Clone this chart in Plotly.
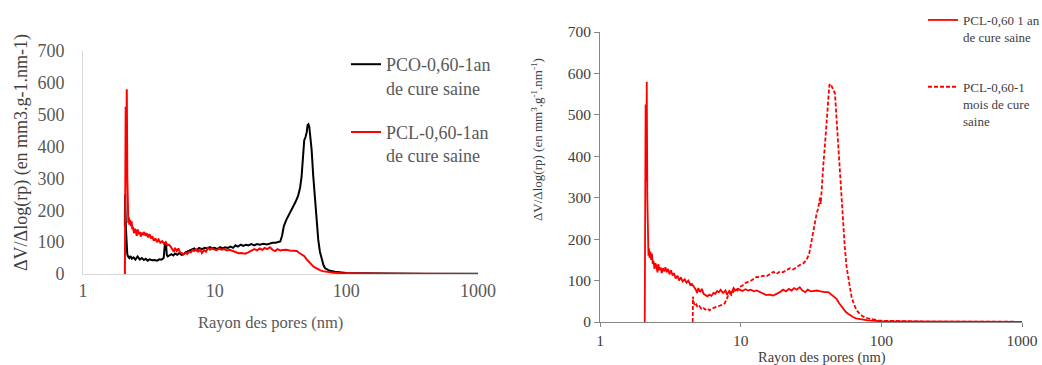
import plotly.graph_objects as go

# ---------------- data ----------------
# PCO-0,60-1an de cure saine (black, left chart)
pco_x = [2.08, 2.09, 2.10, 2.12, 2.14, 2.17, 2.20, 2.25, 2.30, 2.35, 2.42, 2.50, 2.60, 2.70, 2.80,
         2.90, 3.00, 3.10, 3.20, 3.35, 3.50, 3.65, 3.80, 3.95, 4.10, 4.20, 4.27, 4.33, 4.40, 4.55,
         4.70, 4.85, 5.00, 5.20, 5.40, 5.60, 5.80, 6.00, 6.30, 6.60, 7.00, 7.30, 7.60, 8.00, 8.40,
         8.80, 9.20, 9.60, 10.0, 10.5, 11.0, 11.5, 12.0, 12.6, 13.2, 13.8, 14.4, 15.0, 15.8, 16.5,
         17.3, 18.0, 19.0, 20.0, 21.0, 22.0, 23.5, 25.0, 26.3, 27.5, 29.0, 30.5, 31.5, 32.5, 33.5,
         35.0, 36.5, 38.0, 39.5, 41.0, 43.0, 44.5, 45.7, 47.0, 47.9, 49.0, 50.0, 50.8, 51.5, 52.3,
         53.5, 54.5, 56.0, 57.8, 59.5, 61.2, 63.0, 65.0, 67.0, 69.0, 72.0, 75.0, 82.0, 90.0, 100.0,
         130.0, 200.0, 400.0, 1000.0]
pco_y = [150, 250, 200, 140, 80, 62, 55, 50, 56, 48, 52, 45, 55, 45, 50,
         44, 48, 42, 46, 43, 44, 42, 46, 45, 50, 100, 95, 60, 55, 58,
         62, 58, 64, 60, 66, 60, 62, 68, 72, 76, 80, 74, 82, 78, 82,
         80, 84, 80, 82, 78, 84, 80, 84, 82, 86, 82, 90, 86, 92, 88,
         92, 90, 94, 90, 94, 92, 95, 93, 96, 98, 98, 100, 102, 120, 150,
         170, 185, 195, 210, 225, 245, 270, 305, 360, 420, 430, 445, 468, 470, 462,
         430, 390, 310, 232, 165, 107, 70, 44, 28, 18, 13, 10, 7, 5, 3,
         2, 1, 0.6, 0.4]

# PCL-0,60-1an de cure saine (red solid, both charts)
pcl_an_x = [2.08, 2.09, 2.10, 2.11, 2.13, 2.15, 2.17, 2.19, 2.21, 2.23, 2.25, 2.28, 2.31, 2.34, 2.37,
            2.40, 2.44, 2.48, 2.52, 2.56, 2.60, 2.65, 2.70, 2.75, 2.80, 2.86, 2.92, 2.98, 3.05, 3.12,
            3.20, 3.28, 3.36, 3.45, 3.55, 3.65, 3.75, 3.87, 4.00, 4.12, 4.25, 4.38, 4.50, 4.65, 4.80,
            4.90, 5.00, 5.15, 5.30, 5.45, 5.60, 5.80, 6.00, 6.20, 6.40, 6.60, 6.80, 7.00, 7.20, 7.50,
            7.80, 8.00, 8.30, 8.60, 8.90, 9.20, 9.50, 9.90, 10.3, 10.8, 11.3, 11.8, 12.4, 13.0, 13.7,
            14.4, 15.2, 16.0, 17.0, 18.0, 19.0, 20.0, 21.0, 22.0, 23.0, 24.0, 25.0, 26.3, 27.5, 28.8,
            30.0, 31.5, 33.0, 35.0, 37.0, 39.5, 42.0, 44.0, 46.0, 48.0, 50.0, 52.0, 54.0, 56.0, 58.0,
            60.0, 63.0, 66.0, 70.0, 75.0, 80.0, 90.0, 100.0, 130.0, 200.0, 400.0, 1000.0]
pcl_an_y = [0, 520, 330, 525, 340, 580, 300, 185, 160, 178, 155, 170, 150, 165, 140,
            148, 128, 142, 135, 120, 140, 125, 132, 118, 130, 122, 132, 120, 128, 115,
            125, 112, 118, 105, 112, 100, 108, 98, 103, 95, 100, 90, 92, 85, 78,
            70, 82, 72, 80, 68, 66, 62, 66, 63, 70, 68, 75, 72, 78, 70,
            76, 66, 75, 70, 82, 76, 80, 78, 75, 79, 76, 78, 74, 76, 72,
            68, 65, 66, 64, 68, 72, 78, 74, 80, 76, 82, 78, 84, 76, 72,
            78, 74, 75, 76, 74, 72, 72, 66, 62, 56, 46, 38, 30, 24, 20,
            16, 12, 9, 7, 5, 4, 3, 2, 1.5, 1, 0.5, 0.3]

# PCL-0,60-1 mois de cure saine (red dashed, right chart)
pcl_mois_x = [4.56, 4.58, 4.65, 4.75, 4.85, 4.95, 5.10, 5.25, 5.40, 5.60, 5.80, 6.00, 6.20, 6.45, 6.70,
              6.95, 7.20, 7.45, 7.70, 7.90, 8.10, 8.30, 8.60, 8.90, 9.20, 9.50, 9.90, 10.3, 10.8, 11.3,
              11.9, 12.5, 13.0, 13.7, 14.4, 15.2, 16.0, 17.1, 18.0, 19.0, 20.0, 21.2, 22.4, 23.6, 25.0,
              26.5, 28.0, 29.4, 30.7, 31.9, 33.3, 34.7, 35.6, 36.6, 37.1, 37.6, 38.7, 39.8, 40.5, 41.3,
              42.0, 42.7, 43.5, 44.4, 45.5, 46.8, 48.1, 49.5, 50.8, 52.2, 53.6, 55.0, 56.6, 59.0, 61.4,
              64.0, 66.6, 70.0, 74.3, 80.0, 87.2, 95.0, 103.0, 130.0, 200.0, 1000.0]
pcl_mois_y = [0, 61, 45, 38, 42, 35, 38, 32, 35, 30, 33, 28, 32, 34, 36,
              38, 40, 42, 45, 52, 62, 70, 65, 74, 80, 76, 85, 88, 94, 97,
              100, 105, 109, 108, 112, 110, 115, 121, 116, 122, 120, 126, 130, 127, 133,
              138, 142, 150, 165, 198, 230, 262, 275, 300, 285, 327, 380, 431, 470, 512,
              545, 572, 575, 568, 560, 552, 488, 420, 351, 290, 230, 180, 133, 90, 61,
              42, 29, 20, 13, 9, 6, 4, 3, 2, 1, 0.5]

tick_vals = [1, 10, 100, 1000]
tick_text = ["1", "10", "100", "1000"]
y_ticks = [0, 100, 200, 300, 400, 500, 600, 700]

# ---------------- figure ----------------
W, H = 1042, 365
SERIF = "Liberation Serif"
GRAY = "#595959"

fig = go.Figure()

fig.add_trace(go.Scatter(x=pco_x, y=pco_y, mode="lines", name="PCO-0,60-1an<br>de cure saine",
                         line=dict(color="#000000", width=2), xaxis="x", yaxis="y",
                         legend="legend", legendgroup="a"))
fig.add_trace(go.Scatter(x=pcl_an_x, y=pcl_an_y, mode="lines", name="PCL-0,60-1an<br>de cure saine",
                         line=dict(color="#ff0000", width=2), xaxis="x", yaxis="y",
                         legend="legend", legendgroup="b"))
fig.add_trace(go.Scatter(x=pcl_an_x, y=pcl_an_y, mode="lines", name="PCL-0,60 1 an<br>de cure saine",
                         line=dict(color="#ff0000", width=1.8), xaxis="x2", yaxis="y2",
                         legend="legend2", legendgroup="c"))
fig.add_trace(go.Scatter(x=pcl_mois_x, y=pcl_mois_y, mode="lines",
                         name="PCL-0,60-1<br>mois de cure<br>saine",
                         line=dict(color="#ff0000", width=1.8, dash="4px,2px"), xaxis="x2", yaxis="y2",
                         legend="legend2", legendgroup="d"))

def px_x(p):
    return p / W

def px_y(p):
    return 1 - p / H

left_axis_line = "#d9d9d9"
right_axis_line = "#868686"

fig.update_layout(
    width=W, height=H,
    margin=dict(l=0, r=0, t=0, b=0, autoexpand=False),
    paper_bgcolor="white", plot_bgcolor="white",
    font=dict(family=SERIF, color=GRAY),
    xaxis=dict(type="log", range=[0, 3], domain=[px_x(83), px_x(478)], anchor="y",
               tickvals=tick_vals, ticktext=tick_text, showgrid=False, zeroline=False,
               showline=True, linecolor=left_axis_line, linewidth=1, ticks="",
               tickfont=dict(family=SERIF, size=18, color=GRAY)),
    yaxis=dict(range=[0, 700], domain=[px_y(274), px_y(51)], anchor="x",
               tickvals=y_ticks, showgrid=False, zeroline=False,
               showline=True, linecolor=left_axis_line, linewidth=1, ticks="",
               ticklabelstandoff=14,
               tickfont=dict(family=SERIF, size=18, color=GRAY)),
    xaxis2=dict(type="log", range=[0, 3], domain=[px_x(600), px_x(1022)], anchor="y2",
                tickvals=tick_vals, ticktext=tick_text, showgrid=False, zeroline=False,
                showline=True, linecolor=right_axis_line, linewidth=1,
                ticks="outside", ticklen=4, tickcolor=right_axis_line,
                tickfont=dict(family=SERIF, size=15.5, color="#404040")),
    yaxis2=dict(range=[0, 700], domain=[px_y(322), px_y(32)], anchor="x2",
                tickvals=y_ticks, showgrid=False, zeroline=False,
                showline=True, linecolor=right_axis_line, linewidth=1,
                ticks="outside", ticklen=5, tickcolor=right_axis_line,
                tickfont=dict(family=SERIF, size=15.5, color="#404040")),
    legend=dict(x=px_x(346), y=px_y(46), xanchor="left", yanchor="top",
                font=dict(family=SERIF, size=18, color=GRAY), valign="top",
                traceorder="grouped", tracegroupgap=18, bgcolor="rgba(0,0,0,0)"),
    legend2=dict(x=px_x(923), y=px_y(5), xanchor="left", yanchor="top",
                 font=dict(family=SERIF, size=13, color="#404040"), valign="top",
                 traceorder="grouped", tracegroupgap=30, bgcolor="rgba(0,0,0,0)"),
    showlegend=True,
)

annotations = [
    dict(text="Rayon des pores (nm)", x=px_x(270), y=px_y(322), xref="paper", yref="paper",
         showarrow=False, xanchor="center", yanchor="middle",
         font=dict(family=SERIF, size=16.5, color=GRAY)),
    dict(text="ΔV/Δlog(rp) (en mm3.g-1.nm-1)", x=px_x(22), y=px_y(153), xref="paper", yref="paper",
         showarrow=False, xanchor="center", yanchor="middle", textangle=-90,
         font=dict(family=SERIF, size=18, color="#404040")),
    dict(text="Rayon des pores (nm)", x=px_x(822), y=px_y(357), xref="paper", yref="paper",
         showarrow=False, xanchor="center", yanchor="middle",
         font=dict(family=SERIF, size=14.5, color="#404040")),
    dict(text="ΔV/Δlog(rp) (en mm<sup>3</sup>.g<sup>-1</sup>.nm<sup>-1</sup>)",
         x=px_x(537), y=px_y(140), xref="paper", yref="paper",
         showarrow=False, xanchor="center", yanchor="middle", textangle=-90,
         font=dict(family=SERIF, size=13, color="#404040")),
]
fig.update_layout(annotations=annotations)

fig.write_html("out.html", config={"displayModeBar": False},
               post_script="document.body.style.margin='0px';")
